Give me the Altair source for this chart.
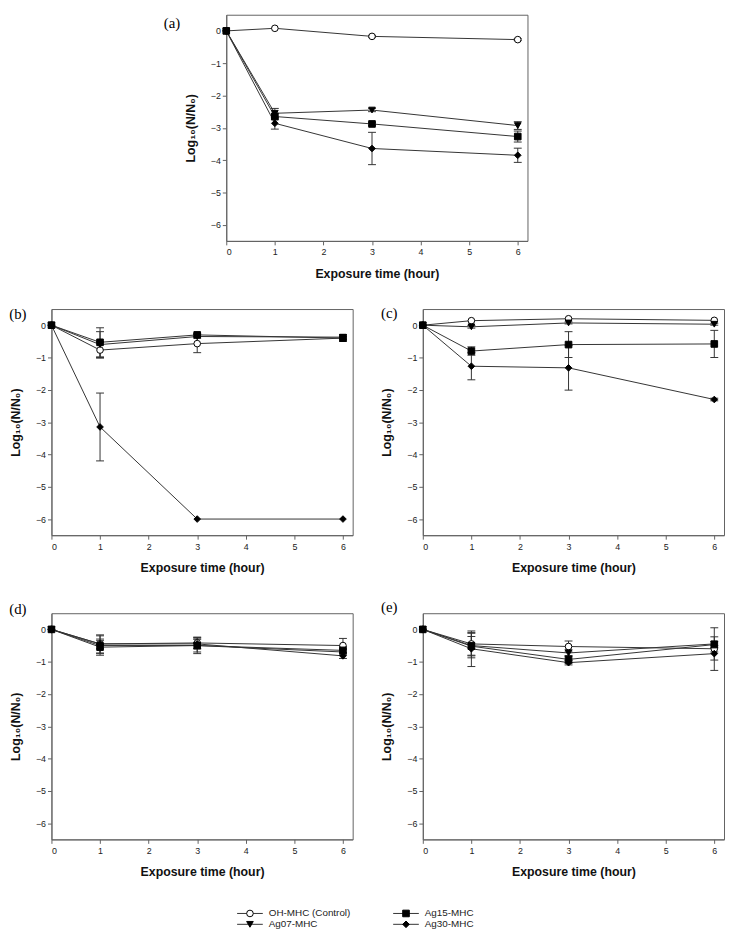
import altair as alt
import pandas as pd

# ---------------- data ----------------
times = [0, 1, 3, 6]
series_names = ["OH-MHC (Control)", "Ag07-MHC", "Ag15-MHC", "Ag30-MHC"]
series_shapes = ["circle", "triangle-down", "square", "diamond"]
series_fills = ["white", "black", "black", "black"]
x_ticks = [0, 1, 2, 3, 4, 5, 6]
y_ticks = [0, -1, -2, -3, -4, -5, -6]

# panel (a)
a_ctrl = [0, 0.08, -0.17, -0.27]
a_ctrl_err = [0, 0, 0.03, 0.03]
a_ag07 = [0, -2.55, -2.45, -2.93]
a_ag07_err = [0, 0.15, 0.05, 0.12]
a_ag15 = [0, -2.65, -2.88, -3.27]
a_ag15_err = [0, 0.10, 0.05, 0.17]
a_ag30 = [0, -2.86, -3.64, -3.85]
a_ag30_err = [0, 0.18, 0.50, 0.22]

# panel (b)
b_ctrl = [0, -0.77, -0.57, -0.40]
b_ctrl_err = [0, 0.25, 0.28, 0.05]
b_ag07 = [0, -0.60, -0.35, -0.37]
b_ag07_err = [0, 0.40, 0.05, 0.08]
b_ag15 = [0, -0.53, -0.30, -0.40]
b_ag15_err = [0, 0.45, 0.05, 0.10]
b_ag30 = [0, -3.15, -6.0, -6.0]
b_ag30_err = [0, 1.05, 0, 0]

# panel (c)
c_ctrl = [0, 0.14, 0.20, 0.15]
c_ctrl_err = [0, 0, 0, 0]
c_ag07 = [0, -0.05, 0.07, 0.03]
c_ag07_err = [0, 0.04, 0.03, 0.03]
c_ag15 = [0, -0.80, -0.60, -0.58]
c_ag15_err = [0, 0.13, 0.40, 0.42]
c_ag30 = [0, -1.27, -1.32, -2.30]
c_ag30_err = [0, 0.42, 0.69, 0.04]

# panel (d)
d_ctrl = [0, -0.45, -0.42, -0.50]
d_ctrl_err = [0, 0.28, 0.18, 0.22]
d_ag07 = [0, -0.50, -0.50, -0.70]
d_ag07_err = [0, 0.30, 0.25, 0.10]
d_ag15 = [0, -0.55, -0.50, -0.65]
d_ag15_err = [0, 0.20, 0.20, 0.12]
d_ag30 = [0, -0.45, -0.45, -0.82]
d_ag30_err = [0, 0.15, 0.15, 0.08]

# panel (e)
e_ctrl = [0, -0.45, -0.53, -0.60]
e_ctrl_err = [0, 0.35, 0.17, 0.10]
e_ag07 = [0, -0.50, -0.73, -0.45]
e_ag07_err = [0, 0.38, 0.10, 0.50]
e_ag15 = [0, -0.52, -0.93, -0.47]
e_ag15_err = [0, 0.30, 0.12, 0.10]
e_ag30 = [0, -0.60, -1.03, -0.75]
e_ag30_err = [0, 0.55, 0.07, 0.52]

panels = {
    "(a)": [(a_ctrl, a_ctrl_err), (a_ag07, a_ag07_err), (a_ag15, a_ag15_err), (a_ag30, a_ag30_err)],
    "(b)": [(b_ctrl, b_ctrl_err), (b_ag07, b_ag07_err), (b_ag15, b_ag15_err), (b_ag30, b_ag30_err)],
    "(c)": [(c_ctrl, c_ctrl_err), (c_ag07, c_ag07_err), (c_ag15, c_ag15_err), (c_ag30, c_ag30_err)],
    "(d)": [(d_ctrl, d_ctrl_err), (d_ag07, d_ag07_err), (d_ag15, d_ag15_err), (d_ag30, d_ag30_err)],
    "(e)": [(e_ctrl, e_ctrl_err), (e_ag07, e_ag07_err), (e_ag15, e_ag15_err), (e_ag30, e_ag30_err)],
}

# ---------------- style ----------------
FONT = "Liberation Sans"
SERIF = "Liberation Serif"
W, H = 305, 229
LINE = "#333333"
FRAME = "#626262"

shape_scale = alt.Scale(domain=series_names, range=series_shapes)
fill_scale = alt.Scale(domain=series_names, range=series_fills)


def xenc(field):
    return alt.X(
        f"{field}:Q",
        scale=alt.Scale(domain=[0, 6.2], nice=False, zero=False),
        axis=alt.Axis(values=x_ticks, title="Exposure time (hour)", format="d"),
    )


def yenc(field):
    return alt.Y(
        f"{field}:Q",
        scale=alt.Scale(domain=[-6.5, 0.5], nice=False, zero=False),
        axis=alt.Axis(values=y_ticks, title="Log₁₀(N/N₀)", format="d"),
    )


def panel(label, lx, ly):
    rows = []
    for name, (vals, errs) in zip(series_names, panels[label]):
        for t, v, e in zip(times, vals, errs):
            rows.append({"series": name, "t": t, "v": v, "err": e,
                         "lo": v - e, "hi": v + e})
    df = pd.DataFrame(rows)
    edf = df[df["err"] > 0]
    caps = pd.concat([
        edf.assign(c=edf["lo"]),
        edf.assign(c=edf["hi"]),
    ])

    lines = alt.Chart(df).mark_line(color=LINE, strokeWidth=1).encode(
        x=xenc("t"), y=yenc("v"), detail="series:N", order="t:Q"
    )
    bars = alt.Chart(edf).mark_rule(color=LINE, strokeWidth=1).encode(
        x=xenc("t"), y=yenc("lo"), y2="hi:Q"
    )
    capm = alt.Chart(caps).mark_rule(color=LINE, strokeWidth=1, xOffset=-4, x2Offset=4).encode(
        x=xenc("t"), x2="t:Q", y=yenc("c")
    )
    pts = alt.Chart(df).mark_point(filled=True, size=45, opacity=1, strokeWidth=1).encode(
        x=xenc("t"), y=yenc("v"),
        shape=alt.Shape("series:N", scale=shape_scale, legend=None),
        fill=alt.Fill("series:N", scale=fill_scale, legend=None),
        stroke=alt.value("black"),
    )
    lab = alt.Chart(pd.DataFrame({"lab": [label]})).mark_text(
        font=SERIF, fontSize=15, align="center", baseline="middle", color="black"
    ).encode(text="lab:N", x=alt.value(lx), y=alt.value(ly))
    return alt.layer(lines, bars, capm, pts, lab).properties(
        width=W, height=H, view=alt.ViewBackground(stroke=FRAME, strokeWidth=1)
    )


def spacer(w):
    return alt.Chart(pd.DataFrame({"d": [0]})).mark_point(opacity=0, size=1).encode(
        x=alt.value(5), y=alt.value(5)
    ).properties(width=w, height=10, view=alt.ViewBackground(stroke="transparent"))


# legend built from the series lists
leg_df = pd.DataFrame({
    "series": series_names,
    "col": [i // 2 for i in range(len(series_names))],
    "row": [i % 2 for i in range(len(series_names))],
})
lgx = alt.X("col:Q", scale=alt.Scale(domain=[0, 1], nice=False), axis=None)
lgy = alt.Y("row:Q", scale=alt.Scale(domain=[0, 1], reverse=True, nice=False), axis=None)
leg_line = alt.Chart(leg_df).mark_rule(color=LINE, strokeWidth=1, xOffset=-13, x2Offset=13).encode(
    x=lgx, x2="col:Q", y=lgy
)
leg_pts = alt.Chart(leg_df).mark_point(filled=True, size=45, opacity=1, strokeWidth=1).encode(
    x=lgx, y=lgy,
    shape=alt.Shape("series:N", scale=shape_scale, legend=None),
    fill=alt.Fill("series:N", scale=fill_scale, legend=None),
    stroke=alt.value("black"),
)
leg_txt = alt.Chart(leg_df).mark_text(align="left", baseline="middle", dx=19, fontSize=10,
                                      font=FONT, color="#222222").encode(
    x=lgx, y=lgy, text="series:N"
)
legend = alt.layer(leg_line, leg_pts, leg_txt).properties(
    width=158, height=11, view=alt.ViewBackground(stroke="transparent")
)

row1 = alt.hconcat(spacer(112), panel("(a)", -55, 8), spacing=0)
row2 = alt.hconcat(panel("(b)", -34, 5), panel("(c)", -34, 4), spacing=27)
row3 = alt.hconcat(panel("(d)", -34, -4), panel("(e)", -34, -6), spacing=27)
row4 = alt.hconcat(spacer(186), legend, spacing=0)

chart = alt.vconcat(
    alt.vconcat(row1, row2, row3, spacing=25),
    row4,
    spacing=29,
).properties(
    padding={"left": 0, "top": 0, "right": 0, "bottom": 0}
).configure_axis(
    grid=False,
    domainColor=FRAME,
    tickColor=FRAME,
    tickSize=4,
    labelFont=FONT,
    labelFontSize=9,
    labelColor="#222222",
    labelPadding=3,
    titleFont=FONT,
    titleFontSize=12.5,
    titleFontWeight="bold",
    titleColor="#111111",
).configure_axisX(
    titlePadding=11,
).configure_axisY(
    titlePadding=13,
    labelPadding=2,
)

chart.save("out.html", embed_options={"renderer": "svg", "actions": False})
